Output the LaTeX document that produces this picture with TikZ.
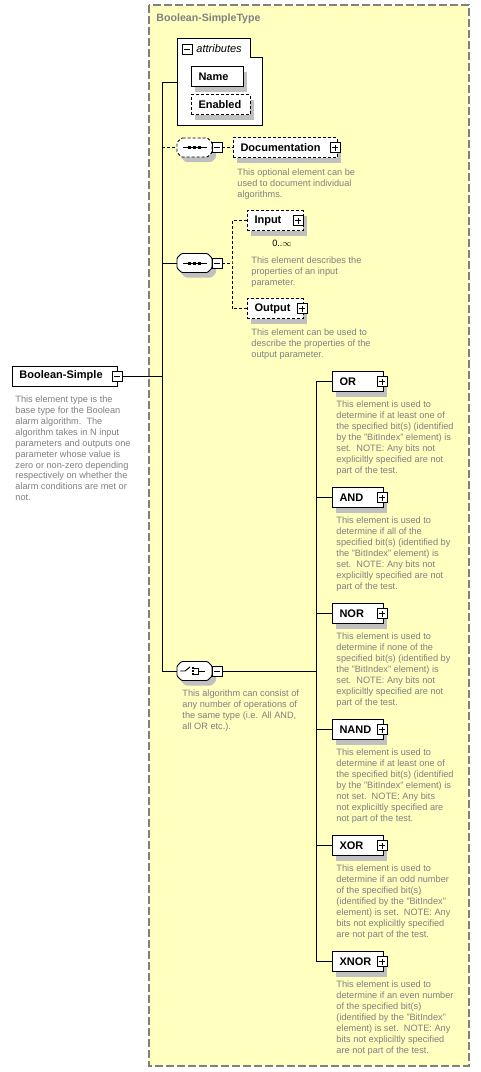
\documentclass[tikz,border=0pt]{standalone}
\usepackage{fontspec}
\setmainfont{Liberation Sans}

\definecolor{typefill}{HTML}{FFFFC0}
\definecolor{typeline}{HTML}{808080}
\definecolor{shadowgray}{HTML}{C0C0C0}
\definecolor{descgray}{HTML}{808080}

\newcommand{\descfont}{\fontsize{9.2}{10.9}\selectfont}
\newcommand{\labelfont}{\fontsize{11}{13}\selectfont\bfseries}
\newcommand{\titlefont}{\fontsize{10.6}{13}\selectfont\bfseries}
\newcommand{\attrfont}{\fontsize{11}{13}\selectfont\itshape}

% octagon outline of a compositor node
\newcommand{\compframe}[2]{%
  \draw[fill=white, shade, rounded corners=1pt, #2] (#1.center) ++(-13,-9.5) -- ++(26,0) -- ++(4.5,4.5)
    -- ++(0,10) -- ++(-4.5,4.5) -- ++(-26,0) -- ++(-4.5,-4.5) -- ++(0,-10) -- cycle;}
% sequence glyph
\newcommand{\seqglyph}[1]{%
  \draw (#1.center) ++(-12,0) -- ++(24,0);
  \fill (#1.center) ++(-6.5,-1.5) rectangle ++(3,3);
  \fill (#1.center) ++(-1.5,-1.5) rectangle ++(3,3);
  \fill (#1.center) ++(3.5,-1.5) rectangle ++(3,3);}
% choice glyph
\newcommand{\choiceglyph}[1]{%
  \draw (#1.center) ++(-14.5,0) -- ++(5,0) -- ++(5,-4);
  \fill (#1.center) ++(-2.3,-3.8) rectangle ++(1.6,1.6);
  \fill (#1.center) ++(-2.3,-0.8) rectangle ++(1.6,1.6);
  \fill (#1.center) ++(-2.3,2.2) rectangle ++(1.6,1.6);
  \draw (#1.center) ++(-0.5,-3) -- ++(4,0) -- ++(0,6) -- ++(-4,0);
  \draw (#1.center) ++(3.5,0) -- ++(7,0);}

\tikzset{
  box/.style={draw, fill=white, minimum height=20pt, inner xsep=7.5pt, inner ysep=0pt,
    text width=#1, align=left, font=\labelfont},
  shade/.style={preaction={fill=shadowgray, transform canvas={shift={(4pt,-5pt)}}}},
  opt/.style={dash pattern=on 3pt off 2pt},
  desc/.style={anchor=north west, align=left, inner sep=0pt, font=\descfont, text=descgray},
  minusbox/.style={draw, fill=white, minimum size=10pt, inner sep=0pt,
    path picture={\draw[solid] ([xshift=2pt]path picture bounding box.west) -- ([xshift=-2pt]path picture bounding box.east);}},
  plusbox/.style={draw, fill=white, minimum size=10pt, inner sep=0pt,
    path picture={\draw[solid] ([xshift=2pt]path picture bounding box.west) -- ([xshift=-2pt]path picture bounding box.east);
      \draw[solid] ([yshift=2pt]path picture bounding box.south) -- ([yshift=-2pt]path picture bounding box.north);}},
  comp/.style={minimum width=35pt, minimum height=19pt, inner sep=0pt},
  optline/.style={dash pattern=on 3pt off 2pt}
}

\begin{document}
\begin{tikzpicture}[x=1pt, y=-1pt, line width=0.9pt]

\useasboundingbox (0,0) rectangle (480,1072);
\fill[white] (0,0) rectangle (480,1072);

% Complex type frame
\draw[typeline, fill=typefill, line width=1.3pt, dash pattern=on 8pt off 3pt] (149,5) rectangle (469,1066);
\node[anchor=west, inner sep=0pt, font=\titlefont, text=typeline] (typetitle) at (156,19) {Boolean-SimpleType};

% Root element
\node[box=90pt] (bs) at (64.5,376) {Boolean-Simple};
\node[minusbox] (bs_m) at (bs.east) {};
\node[desc] (bs_desc) at (15,395.5) {This element type is the\\base type for the Boolean\\alarm algorithm.\ \ The\\algorithm takes in N input\\parameters and outputs one\\parameter whose value is\\zero or non-zero depending\\respectively on whether the\\alarm conditions are met or\\not.};

% Attributes
\draw[fill=white] (177,38) -- (250,38) -- (250,57) -- (262,57) -- (262,125) -- (177,125) -- cycle;
\coordinate (attr_in) at (177,82);
\coordinate (trunk_top) at (162,82);
\node[minusbox] (attr_m) at (187,49) {};
\node[anchor=west, inner sep=0pt, font=\attrfont] (attr_t) at (196,48.5) {attributes};
\node[box=37pt, shade] (name) at (217,76.5) {Name};
\node[box=44pt, shade, opt] (enabled) at (220.5,104.5) {Enabled};

% Main trunk
\draw (bs_m.east) -- (bs_m.east -| trunk_top);
\draw (attr_in) -- (trunk_top);

% Documentation sequence
\node[comp] (docseq) at (194.5,147.5) {};
\compframe{docseq}{opt}
\seqglyph{docseq}
\node[minusbox] (docseq_m) at (217,147.5) {};
\node[box=89pt, shade, opt] (doc) at (285,147.5) {Documentation};
\node[plusbox] (doc_p) at ([xshift=-2pt]doc.east) {};
\node[desc] (doc_desc) at (237,168.5) {This optional element can be\\used to document individual\\algorithms.};
\draw[optline] (trunk_top |- docseq.west) -- (docseq.west);
\draw[optline] (docseq_m.east) -- (doc.west);

% Input / Output sequence
\node[comp] (ioseq) at (194.5,263) {};
\compframe{ioseq}{}
\seqglyph{ioseq}
\node[minusbox] (ioseq_m) at (217,263) {};
\coordinate (io_bus) at (232,263);
\node[box=41pt, shade, opt] (input) at (275,220.5) {Input};
\node[plusbox] (input_p) at ([xshift=-5pt]input.east) {};
\node[inner sep=0pt, font=\descfont] (input_occ) at (282,243.5) {0..$\infty$};
\node[desc] (input_desc) at (251,256.5) {This element describes the\\properties of an input\\parameter.};
\node[box=41pt, shade, opt] (output) at (275,308.5) {Output};
\node[plusbox] (output_p) at ([xshift=-1pt]output.east) {};
\node[desc] (output_desc) at (251,328.5) {This element can be used to\\describe the properties of the\\output parameter.};
\draw (trunk_top |- ioseq.west) -- (ioseq.west);
\draw[optline] (ioseq_m.east) -- (io_bus);
\draw[optline] (input.west) -| (io_bus) |- (output.west);

% Operation choice
\node[comp] (ch) at (194.5,671) {};
\compframe{ch}{}
\choiceglyph{ch}
\node[minusbox] (ch_m) at (217,671) {};
\coordinate (ch_bus) at (316.5,671);
\node[desc] (ch_desc) at (182,689.5) {This algorithm can consist of\\any number of operations of\\the same type (i.e. All AND,\\all OR etc.).};
\draw (trunk_top) |- (ch.west);
\draw (ch_m.east) -- (ch_bus);

% OR
\node[box=36pt, shade] (or) at (357.5,381.5) {OR};
\node[plusbox] (or_p) at ([xshift=-1pt]or.east) {};
\node[desc] (or_desc) at (336,400.5) {This element is used to\\determine if at least one of\\the specified bit(s) (identified\\by the "BitIndex" element) is\\set.\ \ NOTE: Any bits not\\expliciltly specified are not\\part of the test.};

% AND
\node[box=36pt, shade] (and) at (357.5,497.5) {AND};
\node[plusbox] (and_p) at ([xshift=-1pt]and.east) {};
\node[desc] (and_desc) at (336,516.5) {This element is used to\\determine if all of the\\specified bit(s) (identified by\\the "BitIndex" element) is\\set.\ \ NOTE: Any bits not\\expliciltly specified are not\\part of the test.};

% NOR
\node[box=36pt, shade] (nor) at (357.5,613.5) {NOR};
\node[plusbox] (nor_p) at ([xshift=-1pt]nor.east) {};
\node[desc] (nor_desc) at (336,632.5) {This element is used to\\determine if none of the\\specified bit(s) (identified by\\the "BitIndex" element) is\\set.\ \ NOTE: Any bits not\\expliciltly specified are not\\part of the test.};

% NAND
\node[box=36pt, shade] (nand) at (357.5,729.5) {NAND};
\node[plusbox] (nand_p) at ([xshift=-1pt]nand.east) {};
\node[desc] (nand_desc) at (336,748.5) {This element is used to\\determine if at least one of\\the specified bit(s) (identified\\by the "BitIndex" element) is\\not set.\ \ NOTE: Any bits\\not expliciltly specified are\\not part of the test.};

% XOR
\node[box=36pt, shade] (xor) at (357.5,845.5) {XOR};
\node[plusbox] (xor_p) at ([xshift=-1pt]xor.east) {};
\node[desc] (xor_desc) at (336,864.5) {This element is used to\\determine if an odd number\\of the specified bit(s)\\(identified by the "BitIndex"\\element) is set.\ \ NOTE: Any\\bits not expliciltly specified\\are not part of the test.};

% XNOR
\node[box=36pt, shade] (xnor) at (357.5,961.5) {XNOR};
\node[plusbox] (xnor_p) at ([xshift=-1pt]xnor.east) {};
\node[desc] (xnor_desc) at (336,980.5) {This element is used to\\determine if an even number\\of the specified bit(s)\\(identified by the "BitIndex"\\element) is set.\ \ NOTE: Any\\bits not expliciltly specified\\are not part of the test.};

% Choice bus
\draw (or.west) -| (ch_bus) |- (xnor.west);
\draw (and.west) -- (and.west -| ch_bus);
\draw (nor.west) -- (nor.west -| ch_bus);
\draw (nand.west) -- (nand.west -| ch_bus);
\draw (xor.west) -- (xor.west -| ch_bus);

\end{tikzpicture}
\end{document}
